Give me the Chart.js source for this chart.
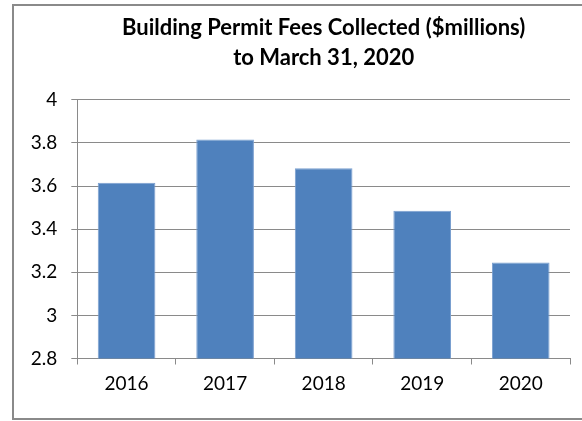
<!DOCTYPE html>
<html>
<head>
<meta charset="utf-8">
<script src="https://cdn.jsdelivr.net/npm/chart.js@4"></script>
<style>
    html, body { margin: 0; padding: 0; background: #fff; overflow: hidden; }
    #feesChart { display: block; }
</style>
</head>
<body>
<canvas id="feesChart" width="582" height="421"></canvas>
<script>
const years = ['2016', '2017', '2018', '2019', '2020'];
const fees = [3.615, 3.816, 3.683, 3.485, 3.245];
const titleLines = ['Building Permit Fees Collected ($millions)', 'to March 31, 2020'];
const yMin = 2.8;
const yMax = 4;
const yStep = 0.2;

// outer chart frame: left, top and bottom edges (right edge is off the picture)
const framePlugin = {
    id: 'frame',
    beforeDraw(chart) {
        const c = chart.ctx;
        c.save();
        c.strokeStyle = '#8a8a8a';
        c.lineWidth = 2;
        c.beginPath();
        c.moveTo(chart.width + 5, 5);
        c.lineTo(13, 5);
        c.lineTo(13, 419);
        c.lineTo(chart.width + 5, 419);
        c.stroke();
        c.restore();
    }
};

function feesChart() {
    const ctx = document.getElementById('feesChart').getContext('2d');
    new Chart(ctx, {
        type: 'bar',
        data: {
            labels: years,
            datasets: [{
                label: 'Fees',
                data: fees,
                backgroundColor: '#4f81bd',
                borderColor: '#7a9fd0',
                borderWidth: 1,
                categoryPercentage: 1,
                barPercentage: 0.585
            }]
        },
        options: {
            responsive: false,
            animation: false,
            layout: { padding: { left: 0, right: 12, top: 0, bottom: 0 } },
            plugins: {
                legend: { display: false },
                tooltip: { enabled: false },
                title: {
                    display: true,
                    text: titleLines,
                    fullSize: false,
                    color: '#000',
                    font: { family: 'Lato', size: 22, weight: 'bold', lineHeight: 1.36 },
                    padding: { top: 13, bottom: 27 }
                }
            },
            scales: {
                x: {
                    grid: {
                        display: true,
                        offset: true,
                        drawOnChartArea: false,
                        drawTicks: true,
                        tickLength: 6,
                        color: '#8a8a8a'
                    },
                    border: { color: '#8a8a8a', width: 1 },
                    ticks: { color: '#000', font: { family: 'Lato', size: 19 }, padding: 8 },
                    afterFit: (scale) => { scale.height = 62.5; }
                },
                y: {
                    min: yMin,
                    max: yMax,
                    grid: { color: '#8a8a8a', tickLength: 6 },
                    border: { color: '#8a8a8a', width: 1 },
                    ticks: {
                        stepSize: yStep,
                        color: '#000',
                        font: { family: 'Lato', size: 19 },
                        padding: 14,
                        callback: (v) => String(Math.round(v * 10) / 10)
                    },
                    afterFit: (scale) => { scale.width = 77.3; }
                }
            }
        },
        plugins: [framePlugin]
    });
}

document.addEventListener("DOMContentLoaded", () => {
    feesChart();
});
</script>
</body>
</html>
